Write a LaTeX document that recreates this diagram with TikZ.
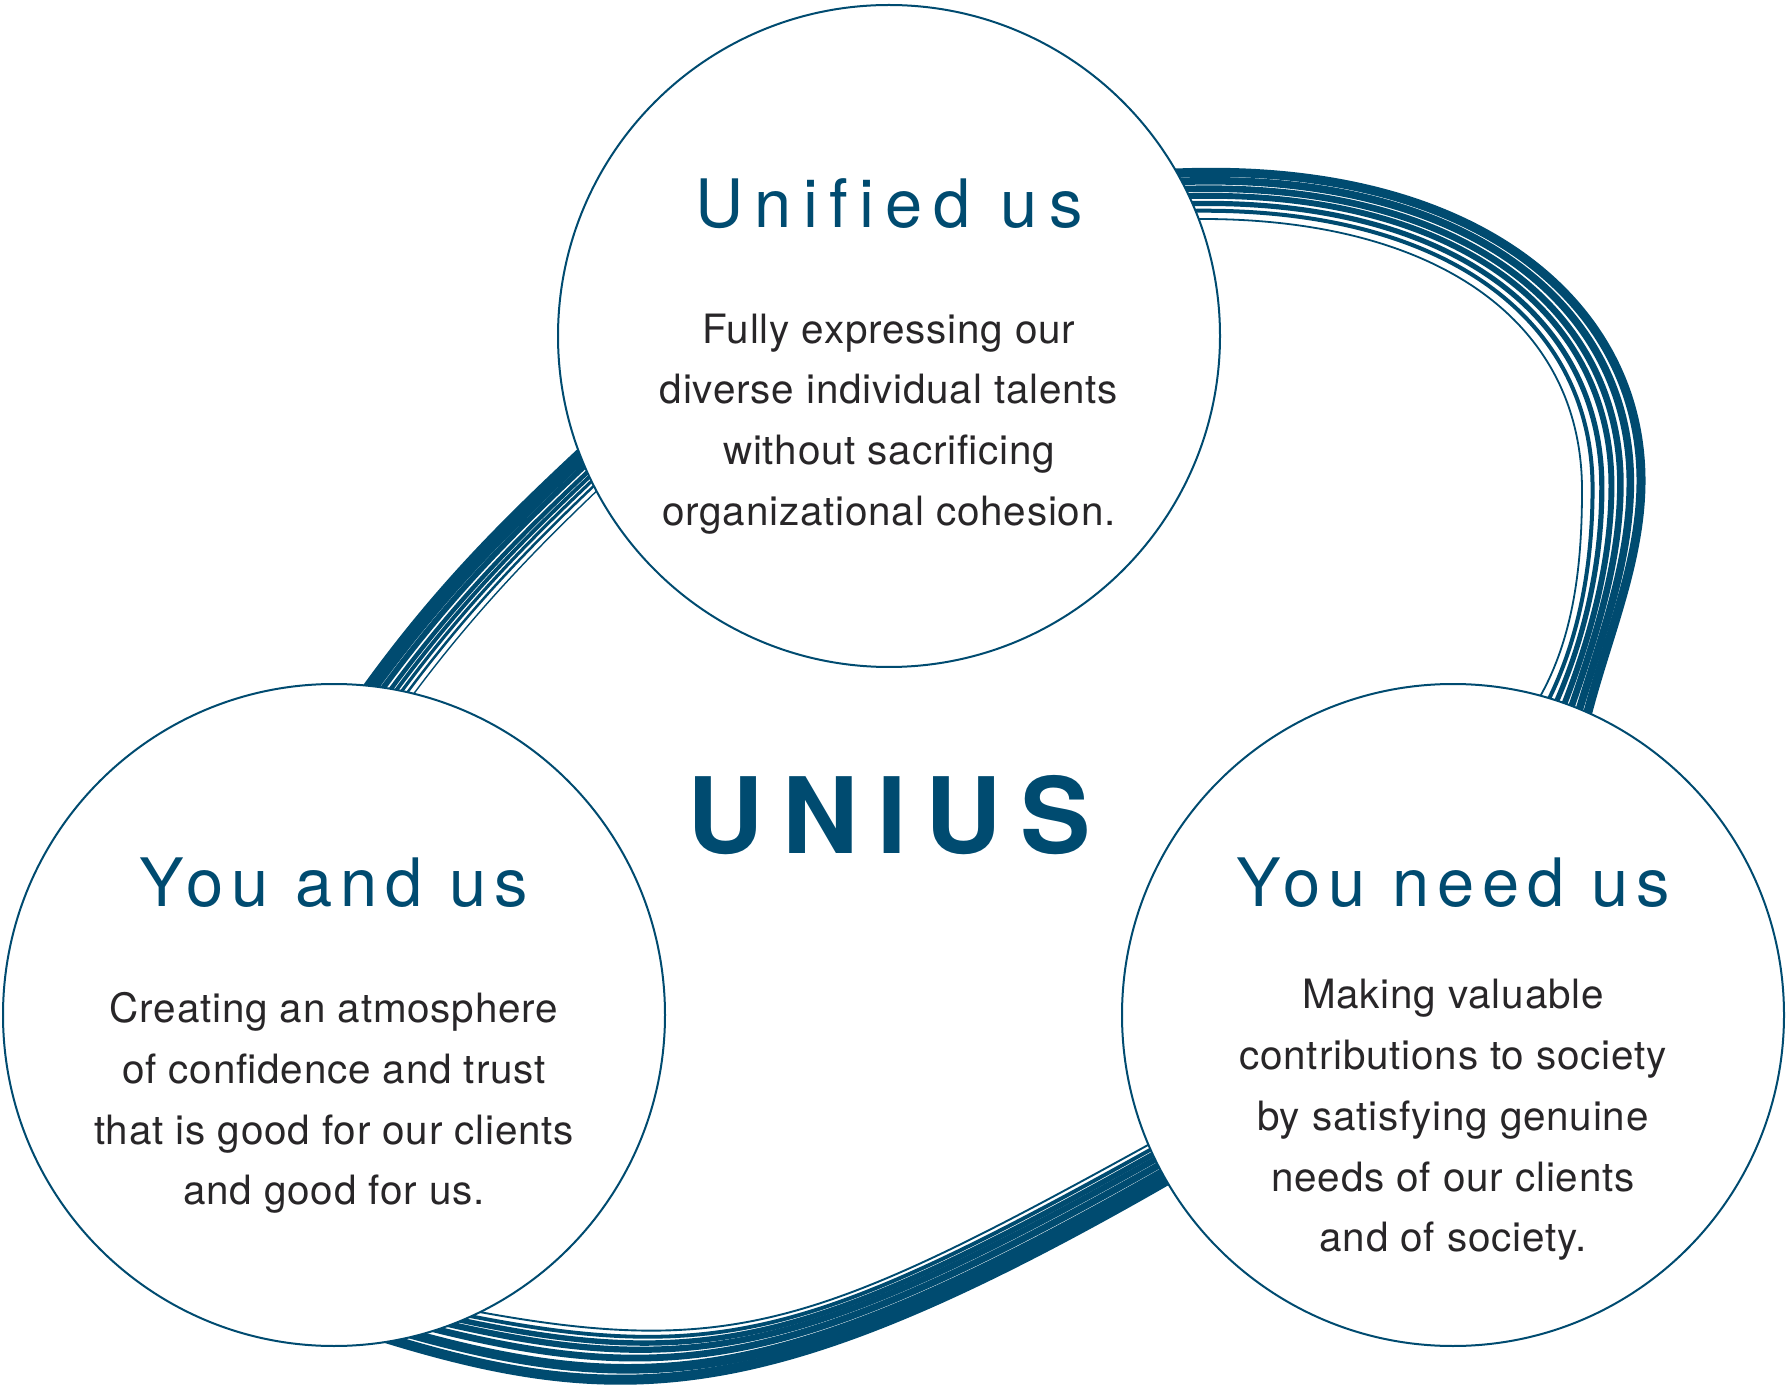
\documentclass[tikz,border=0pt]{standalone}
\usepackage{fontspec}
\setmainfont{TeX Gyre Heros}
\usetikzlibrary{calc}
\definecolor{unius}{RGB}{0,75,112}
\definecolor{ink}{RGB}{40,38,40}
\tikzset{
  bubble/.style={circle, draw=unius, line width=0.2mm, fill=white, minimum size=66.2mm, inner sep=0pt},
  strand/.style={draw=unius, line cap=butt},
  headline/.style={text=unius, anchor=base, inner sep=0pt, font={\fontsize{19}{22}\selectfont\addfontfeature{LetterSpace=#1, Ligatures=NoCommon}}},
  headline/.default=12,
  blurb/.style={text=ink, align=center, inner sep=0pt, font={\fontsize{11.5}{17.3}\selectfont\addfontfeature{LetterSpace=2}}},
  brand/.style={text=unius, anchor=base, inner sep=0pt, font={\bfseries\fontsize{30}{34}\selectfont\addfontfeature{LetterSpace=18}}}
}
\begin{document}
\begin{tikzpicture}[x=0.1mm, y=-0.1mm]
\useasboundingbox (0,0) rectangle (1788,1388);
% left run: outer edge and inner hairline
\coordinate (lo0) at (332,729);  \coordinate (li0) at (385,736);
\coordinate (lo1) at (425,592);  \coordinate (li1) at (466,620);
\coordinate (lo2) at (500,520);  \coordinate (li2) at (540,545);
\coordinate (lo3) at (619,411);  \coordinate (li3) at (639,453);
% upper right arc
\coordinate (ao0) at (1117,171); \coordinate (ai0) at (1142,219);
\coordinate (ao1) at (1177,169); \coordinate (ai1) at (1202,219);
\coordinate (ao2) at (1477,157); \coordinate (ai2) at (1438,219);
\coordinate (ao3) at (1646,300); \coordinate (ai3) at (1582,322);
\coordinate (ao4) at (1646,480); \coordinate (ai4) at (1582,490);
\coordinate (ao5) at (1646,560); \coordinate (ai5) at (1582,560);
\coordinate (ao6) at (1611,635); \coordinate (ai6) at (1575,632);
\coordinate (ao7) at (1592,713); \coordinate (ai7) at (1542,693);
\coordinate (ao8) at (1577,771); \coordinate (ai8) at (1513,746);
% lower run
\coordinate (bo0) at (1217,1156); \coordinate (bi0) at (1200,1116);
\coordinate (bo1) at (1165,1186); \coordinate (bi1) at (1148,1145);
\coordinate (bo2) at (780,1407);  \coordinate (bi2) at (827,1322);
\coordinate (bo3) at (622,1418);  \coordinate (bi3) at (735,1358);
\coordinate (bo4) at (384,1343);  \coordinate (bi4) at (485,1313);
\coordinate (bo5) at (327,1325);  \coordinate (bi5) at (426,1302);

\foreach \fa/\wa/\fb/\wb/\fc/\wc in {
  0.160/14.6/0.078/9.0/0.090/10.0,
  0.380/5.6/0.245/7.6/0.285/9.6,
  0.525/4.4/0.400/6.6/0.480/6.8,
  0.630/3.8/0.540/5.9/0.634/6.2,
  0.735/3.2/0.690/5.2/0.760/5.4,
  0.845/2.5/0.835/4.0/0.880/3.8,
  0.970/1.4/1.000/1.8/1.000/1.9}{
  \draw[strand, line width=\wa*0.1mm] ($(lo0)!\fa!(li0)$) .. controls ($(lo1)!\fa!(li1)$) and ($(lo2)!\fa!(li2)$) .. ($(lo3)!\fa!(li3)$);
  \draw[strand, line width=\wb*0.1mm] ($(ao0)!\fb!(ai0)$) -- ($(ao1)!\fb!(ai1)$)
    .. controls ($(ao2)!\fb!(ai2)$) and ($(ao3)!\fb!(ai3)$) .. ($(ao4)!\fb!(ai4)$)
    .. controls ($(ao5)!\fb!(ai5)$) and ($(ao6)!\fb!(ai6)$) .. ($(ao7)!\fb!(ai7)$) -- ($(ao8)!\fb!(ai8)$);
  \draw[strand, line width=\wc*0.1mm] ($(bo0)!\fc!(bi0)$) -- ($(bo1)!\fc!(bi1)$)
    .. controls ($(bo2)!\fc!(bi2)$) and ($(bo3)!\fc!(bi3)$) .. ($(bo4)!\fc!(bi4)$) -- ($(bo5)!\fc!(bi5)$);
}

\node[bubble] (unified) at (889,336) {};
\node[bubble] (youand) at (334,1015) {};
\node[bubble] (youneed) at (1453,1015) {};

\node[headline=17] (unifiedtitle) at (889,228) {Unified us};
\node[blurb] (unifiedtext) at (889,424) {Fully expressing our\\diverse individual talents\\without sacrificing\\organizational cohesion.};
\node[headline] (youandtitle) at (334,907) {You and us};
\node[blurb] (youandtext) at (334,1103) {Creating an atmosphere\\of confidence and trust\\that is good for our clients\\and good for us.};
\node[headline] (youneedtitle) at (1453,907) {You need us};
\node[blurb] (youneedtext) at (1453,1120) {Making valuable\\contributions to society\\by satisfying genuine\\needs of our clients\\and of society.};
\node[brand] (unius) at (889,854) {UNIUS};
\end{tikzpicture}
\end{document}
